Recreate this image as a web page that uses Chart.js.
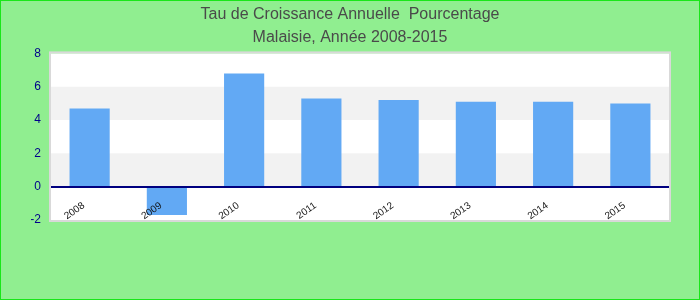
<!DOCTYPE html>
<html>
<head>
<meta charset="utf-8">
<script src="https://cdn.jsdelivr.net/npm/chart.js@4.4.1/dist/chart.umd.min.js"></script>
<style>
  html, body { margin: 0; padding: 0; background: #90ee90; }
  #wrap { width: 700px; height: 300px; box-sizing: border-box; border: 1px solid #19e619; }
</style>
</head>
<body>
<div id="wrap"><canvas id="chart" width="698" height="298"></canvas></div>
<script>
// Malaisie - taux de croissance annuel (%)
const years = ['2008', '2009', '2010', '2011', '2012', '2013', '2014', '2015'];
const growth = [4.7, -1.7, 6.8, 5.3, 5.2, 5.1, 5.1, 5.0];
const yTicks = [-2, 0, 2, 4, 6, 8];
const titleLines = ['Tau de Croissance Annuelle  Pourcentage', 'Malaisie, Année 2008-2015'];

// alternating bands + frame around the plot area
const bands = {
    id: 'bands',
    beforeDraw(chart) {
        const { ctx, chartArea: a, scales: { y } } = chart;
        ctx.save();
        ctx.fillStyle = '#ffffff';
        ctx.fillRect(a.left, a.top, a.right - a.left, a.bottom - a.top);
        ctx.fillStyle = '#f2f2f2';
        for (let i = 0; i < yTicks.length - 1; i++) {
            if (i % 2 === 1) {
                const top = y.getPixelForValue(yTicks[i + 1]);
                const bot = y.getPixelForValue(yTicks[i]);
                ctx.fillRect(a.left, top, a.right - a.left, bot - top);
            }
        }
        ctx.restore();
    },
    afterDraw(chart) {
        const { ctx, chartArea: a } = chart;
        ctx.save();
        ctx.strokeStyle = '#d9d9d9';
        ctx.lineWidth = 2;
        ctx.strokeRect(a.left - 1, a.top - 1, a.right - a.left + 2, a.bottom - a.top + 2);
        ctx.restore();
    }
};

new Chart(document.getElementById('chart'), {
    type: 'bar',
    data: {
        labels: years,
        datasets: [{
            data: growth,
            backgroundColor: '#62a9f4',
            barPercentage: 0.52,
            categoryPercentage: 1
        }]
    },
    options: {
        responsive: false,
        animation: false,
        layout: { padding: { left: 30, right: 30, top: 0, bottom: 79 } },
        plugins: {
            legend: { display: false },
            tooltip: { enabled: false },
            title: {
                display: true,
                text: titleLines,
                color: '#4a4a4a',
                font: { family: 'Liberation Sans, Arial', size: 16, weight: 'normal', lineHeight: 1.45 },
                padding: { top: 2, bottom: 4 }
            }
        },
        scales: {
            x: {
                position: { y: 0 },
                grid: { display: false },
                border: { display: true, color: '#000080', width: 2, z: 1 },
                ticks: {
                    z: 1,
                    color: '#111',
                    font: { family: 'Liberation Sans, Arial', size: 10 },
                    maxRotation: 35,
                    minRotation: 35,
                    labelOffset: -6,
                    padding: 5
                }
            },
            y: {
                min: -2,
                max: 8,
                afterFit(s) { s.width = 20; },
                grid: { display: false, drawTicks: false },
                border: { display: false },
                ticks: {
                    stepSize: 2,
                    color: '#00008b',
                    font: { family: 'Liberation Sans, Arial', size: 12 },
                    padding: 10
                }
            }
        }
    },
    plugins: [bands]
});
</script>
</body>
</html>
